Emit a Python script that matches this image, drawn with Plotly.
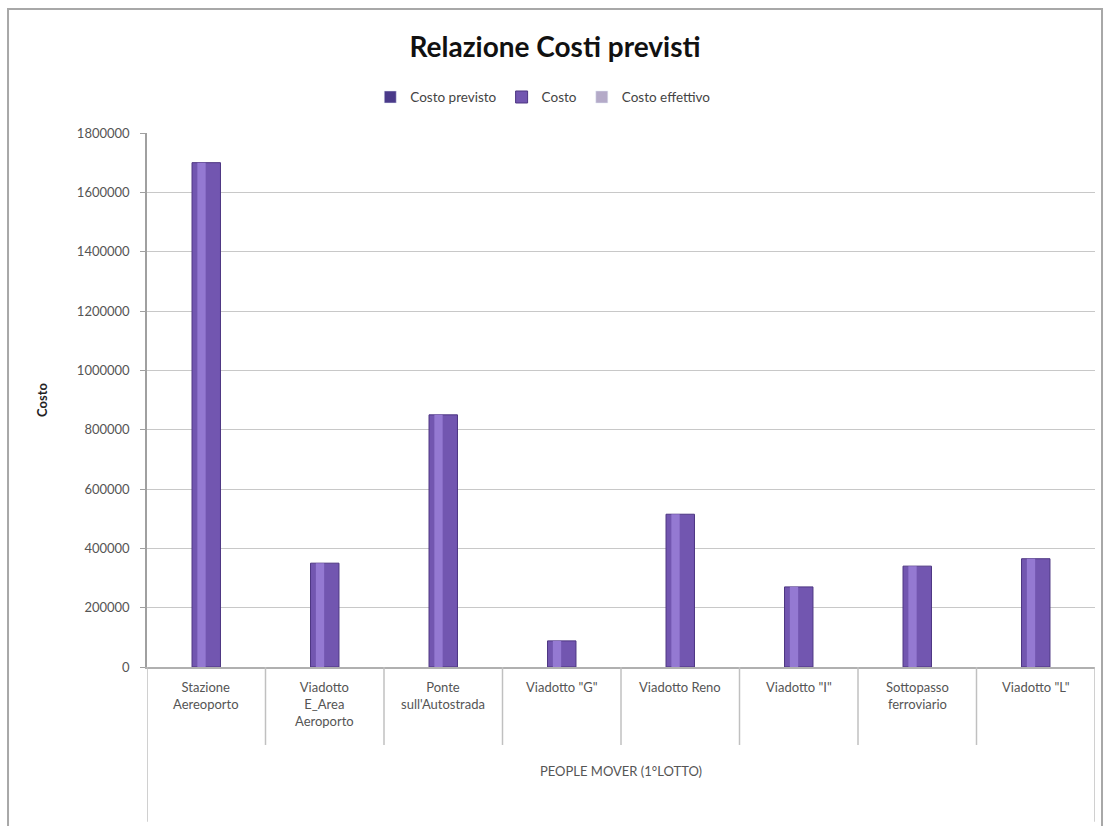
import plotly.graph_objects as go

# Data
categories = [
    "Stazione<br>Aereoporto",
    "Viadotto<br>E_Area<br>Aeroporto",
    "Ponte<br>sull'Autostrada",
    'Viadotto "G"',
    "Viadotto Reno",
    'Viadotto "I"',
    "Sottopasso<br>ferroviario",
    'Viadotto "L"',
]
group_label = "PEOPLE MOVER (1°LOTTO)"
costo = [1700000, 350000, 850000, 88000, 515000, 270000, 340000, 365000]
costo_previsto = [None] * len(categories)
costo_effettivo = [None] * len(categories)
y_ticks = [0, 200000, 400000, 600000, 800000, 1000000, 1200000, 1400000, 1600000, 1800000]

FONT = "Lato, 'Open Sans', sans-serif"
idx = list(range(len(categories)))

fig = go.Figure()
fig.add_trace(go.Bar(name="Costo previsto", x=idx, y=costo_previsto,
                     marker=dict(color="#4a3a8a")))
fig.add_trace(go.Bar(name="Costo", x=idx, y=costo, width=0.24,
                     marker=dict(color="#7256b0", line=dict(color="#4d3582", width=1))))
# lighter highlight strip giving the cylinder shading
fig.add_trace(go.Bar(name="Costo", x=idx, y=costo, width=0.07, offset=-0.075,
                     marker=dict(color="#9479d2", line=dict(width=0)),
                     showlegend=False, hoverinfo="skip"))
fig.add_trace(go.Bar(name="Costo effettivo", x=idx, y=costo_effettivo,
                     marker=dict(color="#b4aac8")))

shapes = []
# dividers between category labels
for i in range(len(categories) - 1):
    shapes.append(dict(type="line", xref="x", yref="paper", x0=i + 0.5, x1=i + 0.5,
                       y0=0, y1=-0.146, line=dict(color="#c0c0c0", width=1.5)))
# outer edges of the category group
for xe in (-0.5, len(categories) - 0.5):
    shapes.append(dict(type="line", xref="x", yref="paper", x0=xe, x1=xe,
                       y0=0, y1=-0.29, line=dict(color="#c0c0c0", width=1.5)))
# chart frame
shapes.append(dict(type="rect", xref="paper", yref="paper", x0=-0.1466, x1=1.0074,
                   y0=-0.35, y1=1.232, line=dict(color="#a8a8a8", width=2),
                   fillcolor="rgba(0,0,0,0)", layer="below"))

annotations = []
for i, c in enumerate(categories):
    annotations.append(dict(text=c, x=i, xref="x", y=-0.018, yref="paper",
                            xanchor="center", yanchor="top", showarrow=False,
                            font=dict(family=FONT, size=13, color="#555555")))
annotations.append(dict(text=group_label, x=(len(categories) - 1) / 2, xref="x",
                        y=-0.195, yref="paper", xanchor="center", yanchor="middle",
                        showarrow=False, font=dict(family=FONT, size=13, color="#555555")))

fig.update_layout(
    width=1110, height=826,
    margin=dict(l=147, r=15, t=133, b=159, autoexpand=False),
    paper_bgcolor="white", plot_bgcolor="white",
    barmode="overlay",
    font=dict(family=FONT, color="#444444"),
    title=dict(text="<b>Relazione Costi previsti</b>", x=0.5, xref="container",
               xanchor="center", y=1 - 47 / 826, yref="container", yanchor="middle",
               font=dict(family=FONT, size=28, color="#111111")),
    legend=dict(orientation="h", x=0.418, xref="paper", xanchor="center",
                y=1.067, yref="paper", yanchor="middle",
                font=dict(family=FONT, size=13.5, color="#444444"),
                itemwidth=30, tracegroupgap=0, traceorder="normal"),
    xaxis=dict(range=[-0.5, len(categories) - 0.5], showticklabels=False, showgrid=False,
               zeroline=False, showline=True, linecolor="#b0b0b0", linewidth=1.5,
               ticks="", automargin=False),
    yaxis=dict(range=[0, 1800000], tickvals=y_ticks, tickformat="d", ticks="outside",
               ticklen=5, tickcolor="#a0a0a0", showline=True, linecolor="#a0a0a0",
               linewidth=1.5, gridcolor="#c8c8c8", gridwidth=1, zeroline=False,
               automargin=False, ticklabelstandoff=8,
               tickfont=dict(family=FONT, size=13, color="#555555"),
               title=dict(text="<b>Costo</b>", font=dict(family=FONT, size=13, color="#222222"),
                          standoff=26)),
    shapes=shapes,
    annotations=annotations,
    showlegend=True,
)

fig.write_html("out.html")
